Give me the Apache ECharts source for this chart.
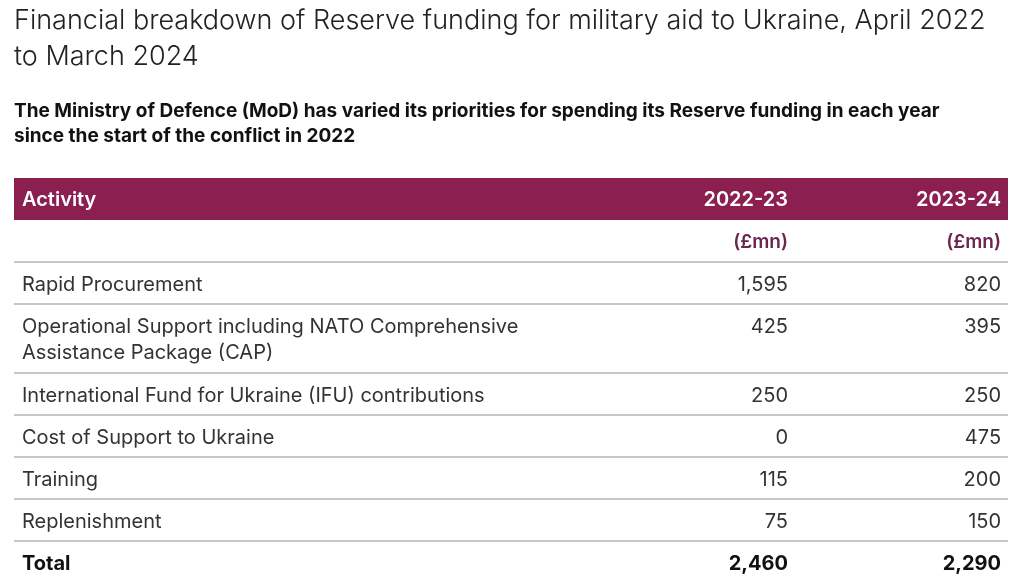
<!DOCTYPE html>
<html><head><meta charset="utf-8">
<script src="https://cdn.jsdelivr.net/npm/echarts@6/dist/echarts.min.js"></script>
<style>html,body{margin:0;padding:0;background:#fff}#c{width:1024px;height:581px}</style>
</head><body><div id="c"></div>
<script>
// ---- data ----
const titleText = 'Financial breakdown of Reserve funding for military aid to Ukraine, April 2022\nto March 2024';
const subtitleText = 'The Ministry of Defence (MoD) has varied its priorities for spending its Reserve funding in each year\nsince the start of the conflict in 2022';
const headerLabels = ['Activity', '2022-23', '2023-24'];
const unitLabels = ['(£mn)', '(£mn)'];
const activities = [
  'Rapid Procurement',
  'Operational Support including NATO Comprehensive\nAssistance Package (CAP)',
  'International Fund for Ukraine (IFU) contributions',
  'Cost of Support to Ukraine',
  'Training',
  'Replenishment'
];
const values2022 = [1595, 425, 250, 0, 115, 75];
const values2023 = [820, 395, 250, 475, 200, 150];
const totalLabel = 'Total';
const totals = [2460, 2290];

// ---- layout / build ----
const fmt = v => String(v).replace(/\B(?=(\d{3})+(?!\d))/g, ',');
const rows = [
  { type: 'header', cells: headerLabels },
  { type: 'unit', cells: [''].concat(unitLabels) },
  ...activities.map((a, i) => ({ type: 'body', cells: [a, fmt(values2022[i]), fmt(values2023[i])] })),
  { type: 'total', cells: [totalLabel, fmt(totals[0]), fmt(totals[1])] }
];
const BASE_H = 42, EXTRA_LINE = 27;
const starts = [];
let acc = 0;
rows.forEach(r => {
  const lines = r.cells[0].split('\n').length;
  r.h = BASE_H + EXTRA_LINE * (lines - 1);
  starts.push(acc);
  acc += r.h;
});
const totalH = acc;
const colX = [0.008, 0.7787, 0.993];
const colAlign = ['left', 'right', 'right'];
const FONT = 'Inter, "Liberation Sans", Arial, sans-serif';

const styleFor = {
  header: { fill: '#ffffff', fontWeight: 600, fontSize: 20, dy: 9 },
  unit:   { fill: '#6b2550', fontWeight: 600, fontSize: 19, dy: 9 },
  body:   { fill: '#333333', fontWeight: 'normal', fontSize: 20, dy: 10 },
  total:  { fill: '#111111', fontWeight: 'bold', fontSize: 20, dy: 10 }
};

const chart = echarts.init(document.getElementById('c'), null, { renderer: 'canvas' });
chart.setOption({
  backgroundColor: '#ffffff',
  animation: false,
  title: [
    { text: titleText, left: 14, top: 3, padding: 0,
      textStyle: { fontFamily: 'Inter, Roboto, sans-serif', fontWeight: 300, fontSize: 27, color: '#222222', lineHeight: 36 } },
    { text: subtitleText, left: 14, top: 99, padding: 0,
      textStyle: { fontFamily: FONT, fontWeight: 'bold', fontSize: 19, color: '#111111', lineHeight: 25 } }
  ],
  grid: { left: 14, top: 178, width: 994, height: totalH, outerBoundsMode: 'none', containLabel: false },
  xAxis: { type: 'value', min: 0, max: 1, show: false },
  yAxis: { type: 'value', min: 0, max: totalH, inverse: true, show: false },
  series: [{
    type: 'custom',
    clip: false,
    data: rows.map((r, i) => [0, i]),
    renderItem(params, api) {
      const i = api.value(1);
      const r = rows[i];
      const p0 = api.coord([0, starts[i]]);
      const p1 = api.coord([1, starts[i] + r.h]);
      const w = p1[0] - p0[0];
      const children = [];
      if (r.type === 'header') {
        children.push({ type: 'rect', shape: { x: p0[0], y: p0[1], width: w, height: p1[1] - p0[1] },
          style: { fill: '#8a1f50' } });
      }
      if (r.type === 'unit' || r.type === 'body') {
        children.push({ type: 'line', shape: { x1: p0[0], y1: p1[1], x2: p1[0], y2: p1[1] },
          style: { stroke: '#b5b5b5', lineWidth: 1.5 } });
      }
      const st = styleFor[r.type];
      r.cells.forEach((t, c) => {
        if (!t) return;
        children.push({ type: 'text', style: {
          text: t, x: p0[0] + colX[c] * w, y: p0[1] + st.dy,
          align: colAlign[c], verticalAlign: 'top', lineHeight: 26,
          fill: st.fill, fontWeight: st.fontWeight, fontSize: st.fontSize, fontFamily: FONT
        } });
      });
      return { type: 'group', children };
    }
  }]
});
</script></body></html>
